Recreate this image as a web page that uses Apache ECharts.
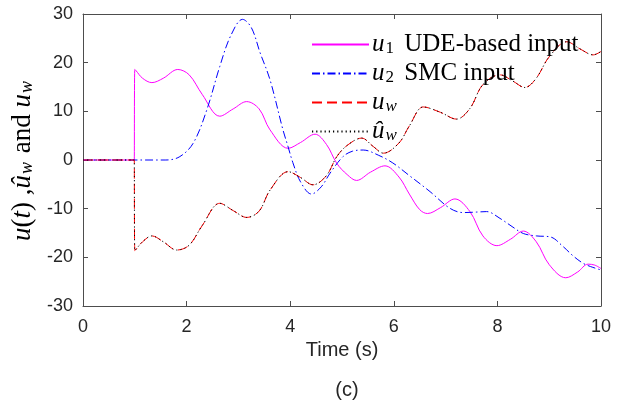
<!DOCTYPE html>
<html>
<head>
<meta charset="utf-8">
<script src="https://cdn.jsdelivr.net/npm/echarts@6/dist/echarts.min.js"></script>
<style>
  html, body { margin: 0; padding: 0; background: #fff; }
  #chart { width: 628px; height: 401px; }
</style>
</head>
<body>
<div id="chart"></div>
<script>
// [time (s), value]
const u1 = [
  [0, 0], [0.99, 0], [1, 0], [1, 18.6], [1.02, 18.4], [1.15, 16.8], [1.33, 15.9], [1.55, 16.8],
  [1.83, 18.6], [2.05, 17.5], [2.3, 13.5], [2.64, 9.0], [2.9, 10.5], [3.16, 12.0], [3.4, 10.5],
  [3.61, 6.2], [3.96, 2.4], [4.2, 3.6], [4.48, 5.3], [4.7, 3.2], [4.9, -0.7], [5.1, -3.0],
  [5.28, -4.2], [5.55, -2.5], [5.83, -1.2], [6.1, -3.5], [6.3, -7.0], [6.5, -10.2], [6.65, -11.0],
  [6.9, -9.8], [7.18, -8.0], [7.47, -10.6], [7.72, -15.6], [7.99, -17.6], [8.25, -16.3], [8.5, -14.6],
  [8.75, -16.8], [9.0, -21.5], [9.32, -24.2], [9.55, -23.0], [9.75, -21.4], [9.88, -21.6], [10, -22.3]
];

const u2 = [
  [0, 0], [1.6, 0], [1.87, 0.7], [2.13, 3.5], [2.39, 10.3], [2.64, 19.2], [2.85, 25.5], [3.08, 28.9],
  [3.25, 27.2], [3.42, 22.0], [3.61, 16.5], [3.86, 6.2], [3.96, 2.7], [4.05, -0.5], [4.2, -4.5],
  [4.41, -7.0], [4.6, -5.5], [4.77, -2.7], [5.02, 0.7], [5.2, 1.8], [5.41, 2.05], [5.7, 1.0],
  [5.98, -0.6], [6.3, -3.2], [6.7, -6.5], [7.08, -9.9], [7.34, -10.8], [7.6, -10.7], [7.79, -10.6],
  [8.05, -12.0], [8.3, -13.8], [8.5, -15.1], [8.75, -15.6], [9.02, -15.8], [9.27, -17.8], [9.45, -19.6],
  [9.65, -21.2], [9.8, -21.9], [10, -22.6]
];

const uW = [
  [0, 0], [0.99, 0], [1, 0], [1, -18.6], [1.02, -18.4], [1.15, -16.8], [1.33, -15.6], [1.55, -16.8],
  [1.81, -18.5], [2.05, -17.5], [2.3, -13.5], [2.64, -8.9], [2.9, -10.4], [3.16, -11.8], [3.4, -10.5],
  [3.61, -6.2], [3.96, -2.4], [4.2, -3.6], [4.44, -5.1], [4.7, -3.2], [4.9, 0.7], [5.1, 3.0],
  [5.38, 4.5], [5.6, 2.8], [5.8, 1.4], [6.1, 3.5], [6.3, 7.0], [6.57, 10.9], [6.9, 9.8],
  [7.21, 8.4], [7.47, 10.6], [7.72, 15.5], [8.05, 17.5], [8.3, 16.2], [8.53, 14.9], [8.75, 16.8],
  [9.0, 21.2], [9.34, 24.3], [9.6, 22.8], [9.85, 21.6], [10, 22.3]
];

// estimate lies on top of u_w
const uHatW = [
  [0, 0], [0.99, 0], [1, 0], [1, -18.6], [1.02, -18.4], [1.15, -16.8], [1.33, -15.6], [1.55, -16.8],
  [1.81, -18.5], [2.05, -17.5], [2.3, -13.5], [2.64, -8.9], [2.9, -10.4], [3.16, -11.8], [3.4, -10.5],
  [3.61, -6.2], [3.96, -2.4], [4.2, -3.6], [4.44, -5.1], [4.7, -3.2], [4.9, 0.7], [5.1, 3.0],
  [5.38, 4.5], [5.6, 2.8], [5.8, 1.4], [6.1, 3.5], [6.3, 7.0], [6.57, 10.9], [6.9, 9.8],
  [7.21, 8.4], [7.47, 10.6], [7.72, 15.5], [8.05, 17.5], [8.3, 16.2], [8.53, 14.9], [8.75, 16.8],
  [9.0, 21.2], [9.34, 24.3], [9.6, 22.8], [9.85, 21.6], [10, 22.3]
];

const xTicks = [0, 2, 4, 6, 8, 10];
const yTicks = [-30, -20, -10, 0, 10, 20, 30];

const legendText = {
  u1: '{i|u}{sub|1}{r| UDE-based input}',
  u2: '{i|u}{sub|2}{r| SMC input}',
  uw: '{i|u}{subi|w}',
  uhat: '{i|û}{subi|w}'
};

const serif = '"Liberation Serif", "DejaVu Serif", serif';
const sans = '"Liberation Sans", Arial, sans-serif';
const axisColor = '#4d4d4d';
const textColor = '#262626';

const mathStyle = (size, subSize) => ({
  i: { fontFamily: serif, fontStyle: 'italic', fontSize: size, color: '#000', lineHeight: size },
  r: { fontFamily: serif, fontSize: size, color: '#000', lineHeight: size },
  sub: { fontFamily: serif, fontSize: subSize, color: '#000', lineHeight: 10, verticalAlign: 'bottom', padding: [0, 4, 0, 1] },
  subi: { fontFamily: serif, fontStyle: 'italic', fontSize: subSize, color: '#000', lineHeight: 10, verticalAlign: 'bottom', padding: [0, 2, 0, 1] }
});

const chart = echarts.init(document.getElementById('chart'), null, { renderer: 'canvas' });

const baseX = {
  type: 'value',
  min: xTicks[0],
  max: xTicks[xTicks.length - 1],
  interval: 2,
  axisLine: { show: true, onZero: false, lineStyle: { color: axisColor, width: 1 } },
  axisTick: { show: true, inside: true, length: 5, lineStyle: { color: axisColor } },
  splitLine: { show: false }
};
const baseY = {
  type: 'value',
  min: yTicks[0],
  max: yTicks[yTicks.length - 1],
  interval: 10,
  axisLine: { show: true, onZero: false, lineStyle: { color: axisColor, width: 1 } },
  axisTick: { show: true, inside: true, length: 5, lineStyle: { color: axisColor } },
  splitLine: { show: false }
};

const line = (name, data, color, type) => ({
  name: name,
  type: 'line',
  data: data,
  symbol: 'none',
  smooth: 0.35,
  lineStyle: { color: color, width: 1, type: type },
  itemStyle: { color: color },
  z: 3
});

chart.setOption({
  animation: false,
  backgroundColor: '#fff',
  title: {
    text: '(c)',
    left: 342,
    top: 375,
    textAlign: 'center',
    textStyle: { fontFamily: sans, fontSize: 20, fontWeight: 'normal', color: textColor }
  },
  grid: { left: 83, right: 27, top: 14, bottom: 95, containLabel: false },
  legend: {
    orient: 'vertical',
    left: 311,
    top: 32,
    padding: 0,
    itemWidth: 57,
    itemHeight: 14,
    itemGap: 4,
    selectedMode: false,
    data: ['u1', 'u2', 'uw', 'uhat'],
    itemStyle: { opacity: 0 },
    formatter: name => legendText[name],
    textStyle: { rich: mathStyle(25, 17), padding: [0, 0, 0, -2] }
  },
  xAxis: [
    Object.assign({}, baseX, {
      position: 'bottom',
      name: 'Time (s)',
      nameLocation: 'middle',
      nameGap: 34,
      nameTextStyle: { fontFamily: sans, fontSize: 20, color: textColor },
      axisLabel: { fontFamily: sans, fontSize: 18, color: textColor, margin: 12 }
    }),
    Object.assign({}, baseX, { position: 'top', axisLabel: { show: false } })
  ],
  yAxis: [
    Object.assign({}, baseY, {
      position: 'left',
      name: '{i|u}{r|(}{i|t}{r|) ,}{i|û}{subi|w}{r| and }{i|u}{subi|w}',
      nameLocation: 'middle',
      nameRotate: 90,
      nameGap: 44,
      nameTextStyle: { rich: mathStyle(27, 18) },
      axisLabel: { fontFamily: sans, fontSize: 18, color: textColor, margin: 10 }
    }),
    Object.assign({}, baseY, { position: 'right', axisLabel: { show: false } })
  ],
  series: [
    line('u1', u1, '#ff00ff', 'solid'),
    line('u2', u2, '#0000ff', [8, 3, 1.5, 3]),
    line('uw', uW, '#ff0000', [10, 5]),
    line('uhat', uHatW, '#000000', [1.2, 3])
  ]
});
</script>
</body>
</html>
